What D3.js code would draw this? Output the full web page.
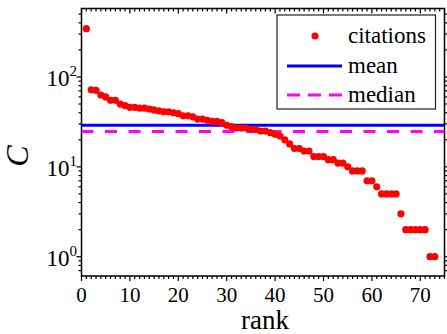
<!DOCTYPE html>
<html><head><meta charset="utf-8">
<script src="https://cdn.jsdelivr.net/npm/d3@7"></script>
<style>
svg text{font-family:"Liberation Serif","Times New Roman",serif;}
</style>
</head><body style="margin:0">
<script>
const ranks = d3.range(1, 74);
const citations = [345,72,71,63,60,55,55,50,48,46,
  46,45,45,44,43,42,41,41,40,39,
  37,37,36,34,34,33,32,32,31,29,
  28,27,27,27,26,26,25,25,24,23,
  22,20,18,16,16,15,15,13,13,13,
  12,12,11,11,10,9,9,9,7,7,
  6,5,5,5,5,3,2,2,2,2,2,1,1];
const meanValue = 29;
const medianValue = 24.7;
const xTicks = [0,10,20,30,40,50,60,70];
const yDecades = [0,1,2];
const legendLabels = ["citations","mean","median"];

const W=447,H=334;
const L=81.5,R=444.5,T=8.5,B=276;
const svg=d3.select("body").append("svg").attr("width",W).attr("height",H);
const x=d3.scaleLinear().domain([0,75]).range([L,R]);
const y=d3.scaleLog().domain([0.61,578]).range([B,T]);
const F="Liberation Serif";

// minor/major ticks
const g=svg.append("g").attr("stroke","#000").attr("stroke-width",1.2);
d3.range(0,76).forEach(v=>{
  const major=v%10===0, len=major?5:3;
  g.append("line").attr("x1",x(v)).attr("x2",x(v)).attr("y1",B).attr("y2",B+len);
  g.append("line").attr("x1",x(v)).attr("x2",x(v)).attr("y1",T).attr("y2",T+len);
});
const yMinor=[];
[-1,0,1,2].forEach(e=>{for(let k=1;k<10;k++){const v=k*Math.pow(10,e);if(v>=0.61&&v<=578)yMinor.push({v,major:k===1});}});
yMinor.forEach(t=>{
  const len=t.major?5:3;
  g.append("line").attr("x1",L).attr("x2",L-len).attr("y1",y(t.v)).attr("y2",y(t.v));
  g.append("line").attr("x1",R).attr("x2",R+len).attr("y1",y(t.v)).attr("y2",y(t.v));
});
svg.append("rect").attr("x",L).attr("y",T).attr("width",R-L).attr("height",B-T)
  .attr("fill","none").attr("stroke","#000").attr("stroke-width",1.5);

// tick labels
xTicks.forEach(d=>svg.append("text").attr("x",x(d)).attr("y",301.5)
  .attr("text-anchor","middle").attr("font-size",21).attr("font-family",F).text(d));
yDecades.forEach(e=>{
  const t=svg.append("text").attr("x",77).attr("y",y(Math.pow(10,e))+9).attr("text-anchor","end")
    .attr("font-size",23).attr("font-family",F);
  t.append("tspan").text("10");
  t.append("tspan").attr("font-size",15).attr("dy",-10).text(e);
});
svg.append("text").attr("x",265).attr("y",329).attr("text-anchor","middle").attr("font-size",27)
  .attr("font-family",F).text("rank");
svg.append("text").attr("transform","translate(28,156) rotate(-90)").attr("text-anchor","middle")
  .attr("font-size",32).attr("font-style","italic").attr("font-family",F).text("C");

// lines
svg.append("line").attr("x1",L).attr("x2",R).attr("y1",y(meanValue)).attr("y2",y(meanValue))
  .attr("stroke","#0000ff").attr("stroke-width",3);
svg.append("line").attr("x1",L).attr("x2",R).attr("y1",y(medianValue)).attr("y2",y(medianValue))
  .attr("stroke","#ff00ff").attr("stroke-width",3).attr("stroke-dasharray","12,11.5");

// points
svg.selectAll(".pt").data(citations).join("circle").attr("cx",(d,i)=>x(ranks[i])).attr("cy",d=>y(d))
  .attr("r",3.6).attr("fill","#ff0000");

// legend
svg.append("rect").attr("x",277).attr("y",15).attr("width",158.5).attr("height",94)
  .attr("fill","#fff").attr("stroke","#222").attr("stroke-width",1.2);
const ly=[36,66,95];
svg.append("circle").attr("cx",315).attr("cy",ly[0]).attr("r",3.6).attr("fill","#ff0000");
svg.append("line").attr("x1",287).attr("x2",342).attr("y1",ly[1]).attr("y2",ly[1]).attr("stroke","#0000ff").attr("stroke-width",3);
svg.append("line").attr("x1",287).attr("x2",342).attr("y1",ly[2]).attr("y2",ly[2]).attr("stroke","#ff00ff").attr("stroke-width",3).attr("stroke-dasharray","13,8");
legendLabels.forEach((s,i)=>svg.append("text").attr("x",348).attr("y",ly[i]+7).attr("font-size",23)
  .attr("font-family",F).text(s));
</script>
</body></html>
